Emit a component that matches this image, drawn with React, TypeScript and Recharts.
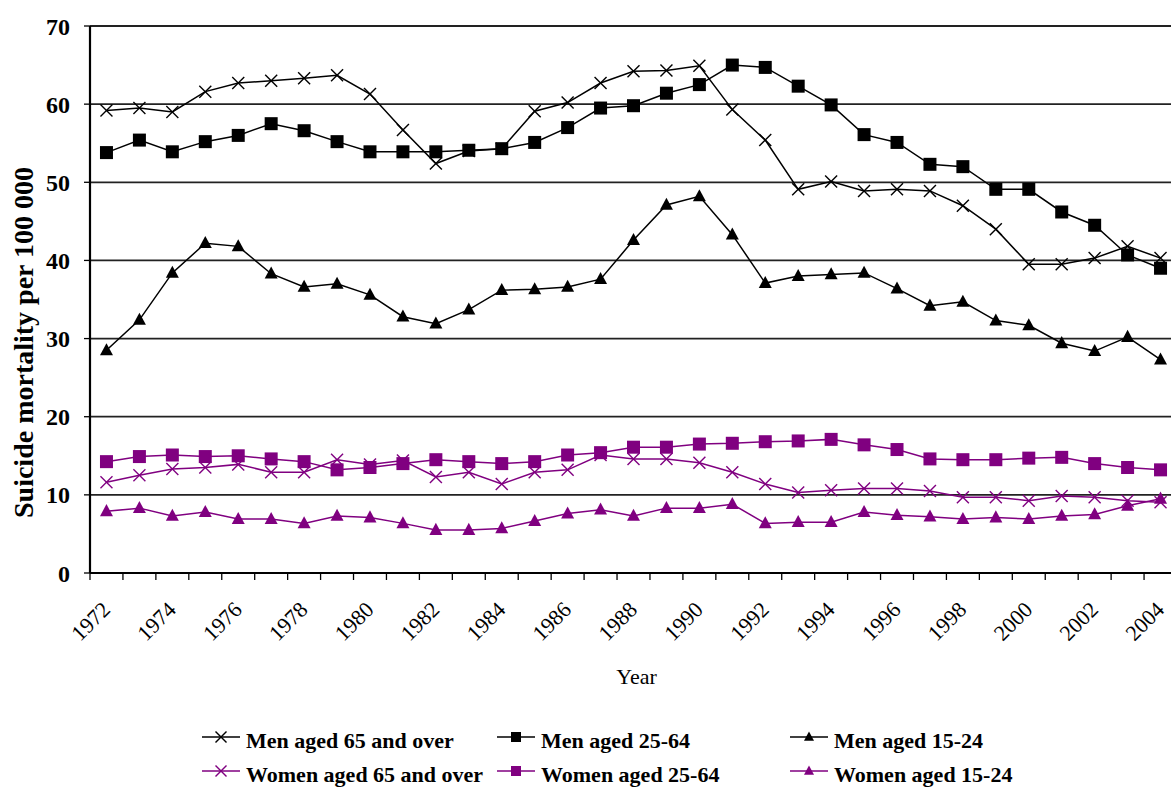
import React from 'react';
import { LineChart, Line, XAxis, YAxis, CartesianGrid, Legend } from 'recharts';

const years = [
  1972, 1973, 1974, 1975, 1976, 1977, 1978, 1979, 1980, 1981,
  1982, 1983, 1984, 1985, 1986, 1987, 1988, 1989, 1990, 1991,
  1992, 1993, 1994, 1995, 1996, 1997, 1998, 1999, 2000, 2001,
  2002, 2003, 2004,
];
const yearLabels = [1972, 1974, 1976, 1978, 1980, 1982, 1984, 1986, 1988, 1990, 1992, 1994, 1996, 1998, 2000, 2002, 2004];
const yTicks = [0, 10, 20, 30, 40, 50, 60, 70];

const men65 = [
  59.2, 59.5, 59.0, 61.6, 62.7, 63.0, 63.3, 63.7, 61.3, 56.7,
  52.4, 54.0, 54.3, 59.1, 60.2, 62.7, 64.2, 64.3, 64.9, 59.3,
  55.4, 49.1, 50.1, 48.9, 49.1, 48.9, 47.0, 44.0, 39.5, 39.5,
  40.3, 41.8, 40.3,
];
const men2564 = [
  53.8, 55.4, 53.9, 55.2, 56.0, 57.5, 56.6, 55.2, 53.9, 53.9,
  53.9, 54.1, 54.3, 55.1, 57.0, 59.5, 59.8, 61.4, 62.5, 65.0,
  64.7, 62.3, 59.9, 56.1, 55.1, 52.3, 52.0, 49.1, 49.1, 46.2,
  44.5, 40.7, 39.0,
];
const men1524 = [
  28.5, 32.4, 38.4, 42.2, 41.8, 38.3, 36.6, 37.0, 35.6, 32.8,
  31.9, 33.7, 36.2, 36.3, 36.6, 37.6, 42.6, 47.1, 48.2, 43.3,
  37.1, 38.0, 38.2, 38.4, 36.4, 34.2, 34.7, 32.3, 31.7, 29.4,
  28.4, 30.2, 27.3,
];
const women65 = [
  11.6, 12.5, 13.3, 13.5, 13.9, 12.9, 12.9, 14.5, 13.9, 14.4,
  12.3, 12.9, 11.4, 12.9, 13.2, 15.1, 14.6, 14.6, 14.1, 12.9,
  11.4, 10.3, 10.6, 10.8, 10.8, 10.5, 9.7, 9.7, 9.25, 9.85,
  9.7, 9.25, 9.05,
];
const women2564 = [
  14.25, 14.9, 15.1, 14.9, 15.0, 14.6, 14.25, 13.2, 13.5, 14.0,
  14.5, 14.25, 14.0, 14.25, 15.1, 15.4, 16.1, 16.1, 16.5, 16.6,
  16.8, 16.9, 17.1, 16.4, 15.8, 14.6, 14.5, 14.5, 14.7, 14.8,
  14.0, 13.5, 13.2,
];
const women1524 = [
  7.9, 8.3, 7.3, 7.8, 6.9, 6.9, 6.35, 7.3, 7.1, 6.35,
  5.5, 5.5, 5.7, 6.65, 7.6, 8.1, 7.3, 8.3, 8.3, 8.8,
  6.35, 6.5, 6.5, 7.8, 7.4, 7.2, 6.9, 7.1, 6.9, 7.3,
  7.5, 8.6, 9.5,
];

const BLACK = '#000000';
const PURPLE = '#800080';
const FONT = '"Liberation Serif", "Times New Roman", serif';

type Shape = 'cross' | 'square' | 'triangle';

const series: { key: string; name: string; color: string; shape: Shape }[] = [
  { key: 'men65', name: 'Men aged 65 and over', color: BLACK, shape: 'cross' },
  { key: 'men2564', name: 'Men aged 25-64', color: BLACK, shape: 'square' },
  { key: 'men1524', name: 'Men aged 15-24', color: BLACK, shape: 'triangle' },
  { key: 'women65', name: 'Women aged 65 and over', color: PURPLE, shape: 'cross' },
  { key: 'women2564', name: 'Women aged 25-64', color: PURPLE, shape: 'square' },
  { key: 'women1524', name: 'Women aged 15-24', color: PURPLE, shape: 'triangle' },
];

const data = years.map((year, i) => ({
  year,
  men65: men65[i],
  men2564: men2564[i],
  men1524: men1524[i],
  women65: women65[i],
  women2564: women2564[i],
  women1524: women1524[i],
}));

// tick marks sit between the years, like a category axis
const boundaries = [...years.map((y) => y - 0.5), years[years.length - 1] + 0.5];

function Marker({ cx, cy, shape, color, size }: { cx: number; cy: number; shape: Shape; color: string; size: number }) {
  const h = size / 2;
  if (shape === 'square') {
    return <rect x={cx - h} y={cy - h} width={size} height={size} fill={color} />;
  }
  if (shape === 'triangle') {
    return (
      <polygon
        points={`${cx},${cy - h * 1.1} ${cx + h},${cy + h * 0.75} ${cx - h},${cy + h * 0.75}`}
        fill={color}
      />
    );
  }
  return (
    <g stroke={color} strokeWidth={1.4}>
      <line x1={cx - h} y1={cy - h} x2={cx + h} y2={cy + h} />
      <line x1={cx - h} y1={cy + h} x2={cx + h} y2={cy - h} />
    </g>
  );
}

const makeDot = (shape: Shape, color: string) => (props: any) => {
  const { cx, cy, index } = props;
  if (cx == null || cy == null) return <g key={index} />;
  return (
    <g key={index}>
      <Marker cx={cx} cy={cy} shape={shape} color={color} size={shape === 'cross' ? 12 : 13} />
    </g>
  );
};

const EmptyTick = () => <g />;

const YearTick = (props: any) => {
  const { x, y, payload } = props;
  return (
    <g transform={`translate(${x + 5},${y + 28})`}>
      <text transform="rotate(-45)" textAnchor="end" fontSize={22} fontFamily={FONT} fill="#000">
        {payload.value}
      </text>
    </g>
  );
};

const YTitle = (props: any) => {
  const { viewBox } = props;
  const x = viewBox.x + 33;
  const y = viewBox.y + viewBox.height / 2 + 43;
  return (
    <text
      x={x}
      y={y}
      transform={`rotate(-90, ${x}, ${y})`}
      textAnchor="middle"
      fontSize={28}
      fontWeight="bold"
      fontFamily={FONT}
      fill="#000"
    >
      Suicide mortality per 100 000
    </text>
  );
};

const YearTitle = (props: any) => {
  const { viewBox } = props;
  const x = viewBox.x + viewBox.width / 2 + 3;
  const y = viewBox.y + 103;
  return (
    <text x={x} y={y} textAnchor="middle" fontSize={22} fontFamily={FONT} fill="#000">
      Year
    </text>
  );
};

const colWidths = [295, 293, 300];

const renderLegend = () => {
  const rows = [series.slice(0, 3), series.slice(3, 6)];
  return (
    <div style={{ fontFamily: FONT, fontWeight: 'bold', fontSize: 22, color: '#000' }}>
      {rows.map((row, r) => (
        <div key={r} style={{ display: 'flex', alignItems: 'center', height: 34 }}>
          {row.map((s, i) => (
            <div key={s.key} style={{ width: colWidths[i], display: 'flex', alignItems: 'center' }}>
              <svg width={40} height={20} style={{ display: 'block' }}>
                <line x1={0} x2={38} y1={6} y2={6} stroke={s.color} strokeWidth={1.5} />
                <Marker cx={19} cy={6} shape={s.shape} color={s.color} size={s.shape === 'cross' ? 11 : 10} />
              </svg>
              <span style={{ marginLeft: 4, lineHeight: '22px', whiteSpace: 'nowrap' }}>{s.name}</span>
            </div>
          ))}
        </div>
      ))}
    </div>
  );
};

export default function App() {
  return (
    <div
      style={{
        position: 'absolute',
        left: 0,
        top: 0,
        width: 1171,
        height: 790,
        overflow: 'hidden',
        background: '#fff',
      }}
    >
      <LineChart width={1177} height={790} data={data} margin={{ top: 26, right: 0, left: 0, bottom: 99 }}>
        <CartesianGrid xAxisId="a" horizontal vertical={false} stroke="#222" strokeWidth={1.8} />
        <XAxis
          xAxisId="a"
          dataKey="year"
          type="number"
          domain={[1971.5, 2004.5]}
          ticks={boundaries}
          interval={0}
          height={8}
          tick={EmptyTick}
          tickSize={7}
          tickLine={{ stroke: '#000', strokeWidth: 1.3 }}
          axisLine={{ stroke: '#000', strokeWidth: 2.2 }}
        />
        <XAxis
          xAxisId="b"
          dataKey="year"
          type="number"
          domain={[1971.5, 2004.5]}
          ticks={yearLabels}
          interval={0}
          height={110}
          tick={YearTick}
          tickSize={0}
          tickLine={false}
          axisLine={false}
          label={{ content: YearTitle }}
        />
        <YAxis
          domain={[0, 70]}
          ticks={yTicks}
          interval={0}
          width={90}
          tickSize={6}
          tickMargin={14}
          tickLine={{ stroke: '#000', strokeWidth: 1.3 }}
          axisLine={{ stroke: '#000', strokeWidth: 2.2 }}
          tick={{ fill: '#000', fontSize: 24, fontWeight: 'bold', fontFamily: FONT }}
          label={{ content: YTitle }}
        />
        <Legend
          layout="horizontal"
          verticalAlign="middle"
          align="center"
          content={renderLegend}
          wrapperStyle={{ position: 'absolute', top: 724, left: 202, width: 960, height: 70 }}
        />
        {series.map((s) => (
          <Line
            key={s.key}
            xAxisId="a"
            type="linear"
            dataKey={s.key}
            name={s.name}
            stroke={s.color}
            strokeWidth={1.5}
            dot={makeDot(s.shape, s.color)}
            activeDot={false}
            isAnimationActive={false}
          />
        ))}
      </LineChart>
    </div>
  );
}
